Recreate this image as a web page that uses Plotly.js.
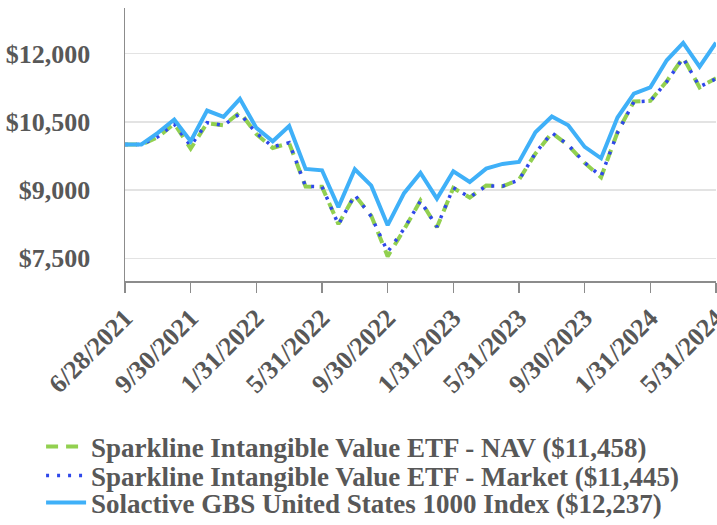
<!DOCTYPE html>
<html>
<head>
<meta charset="utf-8">
<script src="https://cdn.plot.ly/plotly-3.0.1.min.js"></script>
<style>html,body{margin:0;padding:0;background:#fff;}#chart{width:717px;height:525px;}</style>
</head>
<body>
<div id="chart"></div>
<script>
var dates = ["6/28/2021","6/30/2021","7/31/2021","8/31/2021","9/30/2021","10/31/2021","11/30/2021","12/31/2021",
  "1/31/2022","2/28/2022","3/31/2022","4/30/2022","5/31/2022","6/30/2022","7/31/2022","8/31/2022","9/30/2022","10/31/2022","11/30/2022","12/31/2022",
  "1/31/2023","2/28/2023","3/31/2023","4/30/2023","5/31/2023","6/30/2023","7/31/2023","8/31/2023","9/30/2023","10/31/2023","11/30/2023","12/31/2023",
  "1/31/2024","2/29/2024","3/31/2024","4/30/2024","5/31/2024"];
var navValues = [10000,10000,10160,10460,9910,10470,10420,10710,10230,9925,10030,9075,9070,8250,8885,8436,7540,8130,8770,8180,9045,8835,9100,9081,9228,9800,10255,9980,9595,9280,10270,10945,10960,11390,11915,11255,11458];
var marketValues = [10000,10000,10170,10450,9970,10480,10420,10680,10250,9950,10040,9080,9075,8240,8890,8420,7640,8150,8760,8190,9050,8840,9090,9085,9220,9810,10260,9990,9600,9300,10260,10940,10955,11380,11900,11270,11445];
var indexValues = [10000,10000,10255,10548,10071,10746,10607,11003,10365,10071,10405,9463,9433,8623,9455,9096,8227,8931,9375,8810,9411,9177,9470,9573,9617,10269,10614,10423,9947,9697,10592,11116,11256,11850,12235,11710,12237];
var tickLabels = ["6/28/2021","9/30/2021","1/31/2022","5/31/2022","9/30/2022","1/31/2023","5/31/2023","9/30/2023","1/31/2024","5/31/2024"];
var yTicks = [7500,9000,10500,12000];
var seriesNames = ["Sparkline Intangible Value ETF - NAV ($11,458)","Sparkline Intangible Value ETF - Market ($11,445)","Solactive GBS United States 1000 Index ($12,237)"];

var textGrey = "#585858";
function font(size){ return {family: "Liberation Serif, Times New Roman, serif", size: size, color: textGrey, weight: 700}; }

var traces = [
  {x: dates, y: navValues, name: seriesNames[0], type: "scatter", mode: "lines", legend: "legend",
   line: {color: "#92d050", width: 4, dash: "12px,8px"}},
  {x: dates, y: marketValues, name: seriesNames[1], type: "scatter", mode: "lines", legend: "legend2",
   line: {color: "#2f48ea", width: 3.5, dash: "3px,8px"}},
  {x: dates, y: indexValues, name: seriesNames[2], type: "scatter", mode: "lines", legend: "legend3",
   line: {color: "#3fb0f8", width: 4}}
];

function legendAt(y){
  return {x: -0.142, xanchor: "left", yref: "container", y: y, yanchor: "middle", font: font(27),
          itemwidth: 40, bgcolor: "rgba(0,0,0,0)", borderwidth: 0};
}

var layout = {
  width: 717, height: 525,
  margin: {l: 125, r: 1, t: 8, b: 244, autoexpand: false},
  paper_bgcolor: "#ffffff", plot_bgcolor: "#ffffff",
  font: font(27),
  showlegend: true,
  legend: legendAt(0.1486),
  legend2: legendAt(0.0933),
  legend3: legendAt(0.0419),
  xaxis: {type: "category", range: [0, dates.length - 1], tickmode: "array", tickvals: tickLabels, ticktext: tickLabels,
          tickangle: -45, ticks: "outside", ticklen: 10, tickwidth: 1.5, tickcolor: "#8c8c8c",
          showline: true, linecolor: "#8c8c8c", linewidth: 1.5, showgrid: false, zeroline: false,
          tickfont: font(26)},
  yaxis: {range: [7000, 13000], tickmode: "array", tickvals: yTicks,
          ticktext: yTicks.map(function(v){return "$" + v.toLocaleString("en-US");}),
          ticks: "", ticklabelstandoff: 28, showline: true, linecolor: "#8c8c8c", linewidth: 1.5,
          showgrid: true, gridcolor: "#e3e3e3", gridwidth: 1.5, zeroline: false, tickfont: font(26)}
};

Plotly.newPlot("chart", traces, layout, {displayModeBar: false, staticPlot: true});
</script>
</body>
</html>
